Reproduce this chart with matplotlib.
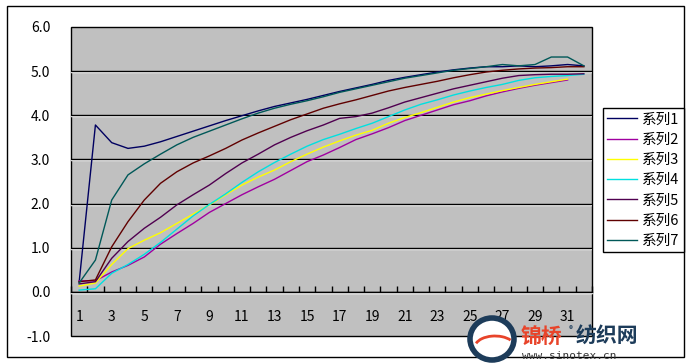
import numpy as np
import matplotlib.pyplot as plt
import matplotlib.patheffects as pe
from matplotlib.patches import Rectangle, Ellipse, Arc

plt.rcParams['font.family'] = ['Noto Sans CJK SC', 'DejaVu Sans']

nan = np.nan
cats = np.arange(1, 33)
xlabels = [str(c) if c % 2 == 1 else '' for c in cats]
names = ['系列1', '系列2', '系列3', '系列4', '系列5', '系列6', '系列7']

s1 = [0.22, 3.78, 3.38, 3.25, 3.3, 3.4, 3.52, 3.64, 3.76, 3.88, 3.99, 4.1, 4.2, 4.28, 4.36, 4.45,
      4.54, 4.62, 4.7, 4.79, 4.86, 4.92, 4.98, 5.03, 5.07, 5.1, 5.1, 5.12, 5.1, 5.12, 5.15, 5.12]
s2 = [0.25, 0.25, 0.45, 0.6, 0.79, 1.08, 1.32, 1.55, 1.8, 2.0, 2.2, 2.38, 2.55, 2.75, 2.95, 3.1,
      3.27, 3.45, 3.58, 3.72, 3.88, 4.0, 4.12, 4.24, 4.33, 4.44, 4.53, 4.61, 4.68, 4.74, 4.8, nan]
s3 = [0.13, 0.2, 0.62, 0.98, 1.17, 1.34, 1.55, 1.76, 1.97, 2.2, 2.42, 2.6, 2.76, 2.95, 3.12, 3.28,
      3.42, 3.55, 3.66, 3.82, 3.95, 4.06, 4.18, 4.3, 4.4, 4.48, 4.56, 4.63, 4.7, 4.76, 4.82, nan]
s4 = [0.04, 0.07, 0.42, 0.62, 0.85, 1.12, 1.42, 1.72, 1.98, 2.22, 2.48, 2.72, 2.93, 3.12, 3.3, 3.45,
      3.57, 3.7, 3.82, 3.97, 4.12, 4.25, 4.35, 4.46, 4.55, 4.63, 4.7, 4.79, 4.85, 4.88, 4.9, 4.93]
s5 = [0.18, 0.23, 0.76, 1.14, 1.44, 1.69, 1.97, 2.2, 2.42, 2.68, 2.92, 3.12, 3.33, 3.5, 3.65, 3.78,
      3.93, 3.97, 4.05, 4.17, 4.3, 4.4, 4.5, 4.6, 4.68, 4.76, 4.84, 4.9, 4.92, 4.93, 4.93, 4.94]
s6 = [0.23, 0.27, 1.02, 1.59, 2.08, 2.46, 2.72, 2.92, 3.08, 3.25, 3.44, 3.6, 3.75, 3.9, 4.03, 4.16,
      4.26, 4.35, 4.45, 4.55, 4.63, 4.7, 4.77, 4.85, 4.92, 4.98, 5.02, 5.05, 5.07, 5.08, 5.1, 5.1]
s7 = [0.2, 0.72, 2.08, 2.65, 2.9, 3.12, 3.33, 3.5, 3.64, 3.78, 3.92, 4.05, 4.16, 4.25, 4.33, 4.42,
      4.52, 4.6, 4.68, 4.76, 4.84, 4.9, 4.96, 5.02, 5.06, 5.1, 5.15, 5.12, 5.15, 5.32, 5.32, 5.12]
series = [s1, s2, s3, s4, s5, s6, s7]
colors = ['#000060', '#a000a0', '#ffff00', '#00e0e0', '#500050', '#600000', '#005858']

yticks = np.arange(-1, 7)

fig = plt.figure(figsize=(6.92, 3.64), dpi=100)
ax = fig.add_axes([71 / 692, 28 / 364, 521 / 692, 309 / 364])
ax.set_facecolor('#c0c0c0')
ax.patch.set_edgecolor('black')
ax.patch.set_linewidth(1.0)

shadow = [pe.SimpleLineShadow(offset=(0, -0.75), shadow_color='white', alpha=1), pe.Normal()]
for v in yticks[1:-1]:
    ax.axhline(v, color='black', lw=1.0, zorder=1, path_effects=shadow)

for s, c, n in zip(series, colors, names):
    ax.plot(cats, s, color=c, lw=1.0, label=n, zorder=3)

ax.set_xlim(0.5, 32.5)
ax.set_ylim(-1, 6)
ax.set_yticks(yticks)
ax.set_yticklabels(['%.1f' % v for v in yticks])
ax.tick_params(axis='y', length=0, pad=15, labelsize=10)

for side in ['left', 'top', 'right']:
    ax.spines[side].set_visible(False)
ax.spines['bottom'].set_position(('data', 0))
ax.spines['bottom'].set_linewidth(1.0)
ax.spines['bottom'].set_path_effects(shadow)
ax.set_xticks(np.arange(0.5, 33, 1))
ax.set_xticklabels([])
ax.set_xticks(cats, minor=True)
ax.set_xticklabels(xlabels, minor=True)
ax.tick_params(axis='x', which='major', direction='in', length=4, width=1, color='black')
ax.tick_params(axis='x', which='minor', length=0, pad=13, labelsize=10)

fig.legend(loc='upper left', bbox_to_anchor=(603 / 692, 1 - 108 / 364), frameon=True,
           fancybox=False, edgecolor='black', framealpha=1, fontsize=10.5,
           handlelength=2.0, handletextpad=0.4, labelspacing=0.43, borderpad=0.3,
           borderaxespad=0)

fig.patches.append(Rectangle((7 / 692, 7 / 364), 677 / 692, 351 / 364, transform=fig.transFigure,
                             fill=False, edgecolor='black', lw=1.0))

# watermark
fig.patches.append(Ellipse((492 / 692, 1 - 339 / 364), 44 / 692, 42 / 364, transform=fig.transFigure,
                           facecolor='white', edgecolor='#1d3c5a', lw=4))
fig.patches.append(Arc((495 / 692, 1 - 347 / 364), 40 / 692, 22 / 364, theta1=40, theta2=160,
                       transform=fig.transFigure, color='#e8442a', lw=2))
fig.text(521 / 692, 1 - 336 / 364, '锦桥', color='#e8442a', fontsize=15, fontweight='bold',
         va='center', ha='left')
fig.text(569 / 692, 1 - 330 / 364, '®', color='#1d3c5a', fontsize=6, va='center', ha='left')
fig.text(576 / 692, 1 - 336 / 364, '纺织网', color='#1d3c5a', fontsize=15, fontweight='bold',
         va='center', ha='left')
fig.text(522 / 692, 1 - 356 / 364, 'www.sinotex.cn', color='#333333', fontsize=8,
         va='center', ha='left', family='DejaVu Sans Mono')

fig.savefig('out.png', dpi=100)
